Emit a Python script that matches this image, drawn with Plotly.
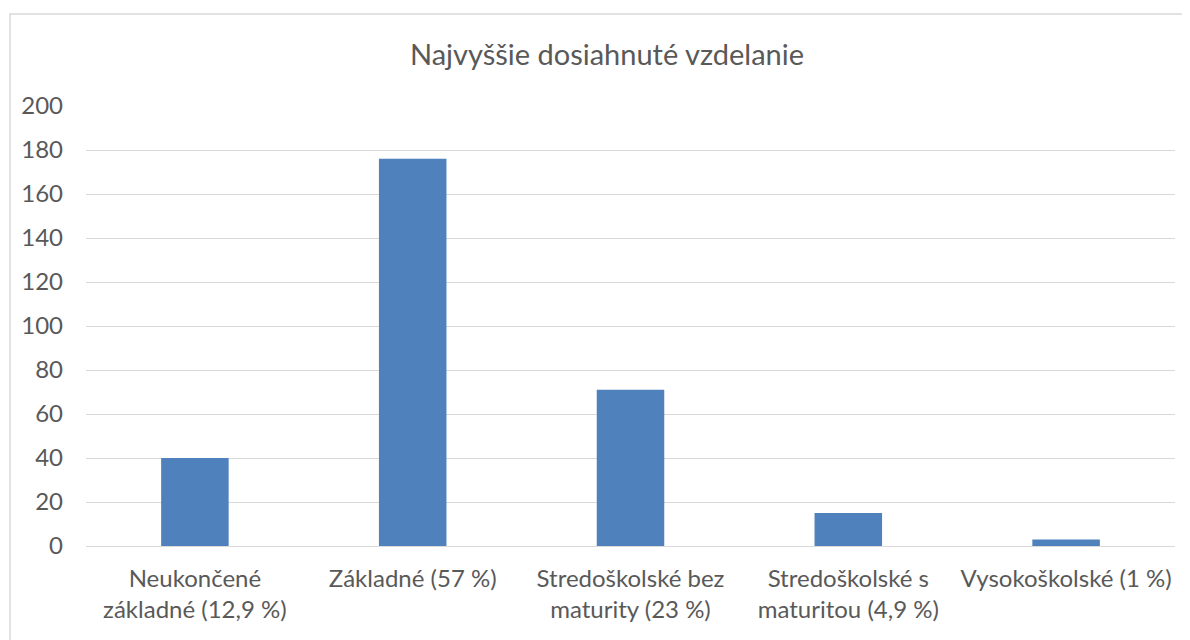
import plotly.graph_objects as go

categories = [
    "Neukončené<br>základné (12,9 %)",
    "Základné (57 %)",
    "Stredoškolské bez<br>maturity (23 %)",
    "Stredoškolské s<br>maturitou (4,9 %)",
    "Vysokoškolské (1 %)",
]
values = [40, 176, 71, 15, 3]
y_ticks = [0, 20, 40, 60, 80, 100, 120, 140, 160, 180, 200]

OFF = 8  # page body margin
W, H = 1190 - OFF, 640 - OFF
L, R, T, B = 86 - OFF, 15, 106 - OFF, 94
pw, ph = W - L - R, H - T - B

fig = go.Figure(go.Bar(x=categories, y=values, marker=dict(color="#4F81BD", line=dict(width=0)), width=0.31))

font_family = "Lato, Open Sans, sans-serif"
fig.update_layout(
    width=W, height=H,
    margin=dict(l=L, r=R, t=T, b=B),
    paper_bgcolor="white", plot_bgcolor="white",
    title=dict(text="Najvyššie dosiahnuté vzdelanie", x=(607 - OFF) / W, xanchor="center",
               y=1 - (55 - OFF) / H, yanchor="middle",
               font=dict(family=font_family, size=29, color="#595959")),
    font=dict(family=font_family, color="#595959", size=24),
    showlegend=False,
    xaxis=dict(showgrid=False, showline=False, ticks="", ticklabelstandoff=16,
               tickfont=dict(size=24, color="#595959"), fixedrange=True),
    yaxis=dict(range=[0, 200], tickvals=y_ticks, showgrid=True, gridcolor="#D9D9D9", gridwidth=1,
               zeroline=True, zerolinecolor="#D9D9D9", zerolinewidth=1, showline=False, ticks="",
               ticklabelstandoff=22, tickfont=dict(size=24, color="#595959")),
    shapes=[dict(type="rect", xref="paper", yref="paper",
                 x0=(10 - OFF - L) / pw, x1=(1220 - OFF - L) / pw,
                 y0=(H - B - 660) / ph, y1=(H - B - (14 - OFF)) / ph,
                 line=dict(color="#D9D9D9", width=1.5), fillcolor="rgba(0,0,0,0)", layer="below")],
)

fig.write_html("out.html")
